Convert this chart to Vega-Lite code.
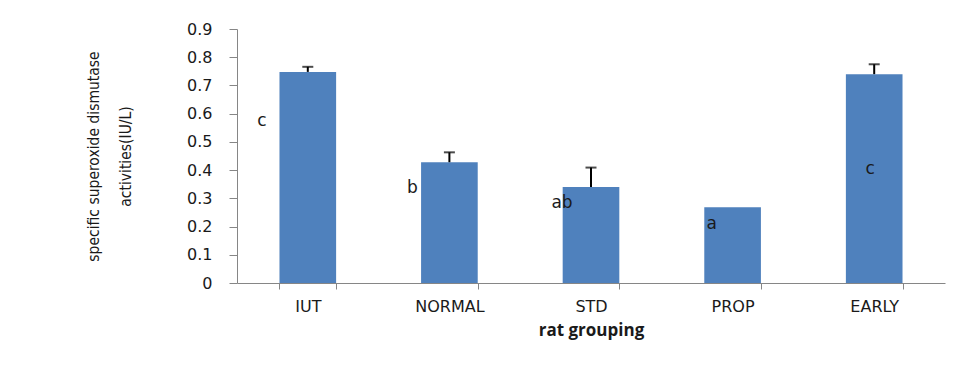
{
  "$schema": "https://vega.github.io/schema/vega-lite/v6.json",
  "width": 708,
  "height": 254,
  "autosize": {"type": "none"},
  "padding": {"left": 237, "top": 29, "right": 13, "bottom": 84},
  "background": "white",
  "config": {
    "view": {"stroke": null},
    "axis": {"labelOverlap": false}
  },
  "data": {
    "values": [
      {"group": "IUT", "value": 0.748, "upper": 0.766, "letter": "c", "ly": 0.575},
      {"group": "NORMAL", "value": 0.428, "upper": 0.463, "letter": "b", "ly": 0.337},
      {"group": "STD", "value": 0.340, "upper": 0.409, "letter": "ab", "ly": 0.283},
      {"group": "PROP", "value": 0.268, "upper": null, "letter": "a", "ly": 0.209},
      {"group": "EARLY", "value": 0.740, "upper": 0.775, "letter": "c", "ly": 0.404}
    ]
  },
  "encoding": {
    "x": {
      "field": "group",
      "type": "nominal",
      "sort": ["IUT", "NORMAL", "STD", "PROP", "EARLY"],
      "scale": {"paddingInner": 0.6, "paddingOuter": 0.3},
      "axis": {
        "labelAngle": 0,
        "labelOverlap": false,
        "tickBand": "extent",
        "domainColor": "#868686",
        "tickColor": "#868686",
        "tickSize": 6,
        "labelFont": "DejaVu Sans",
        "labelFontSize": 16,
        "labelColor": "#1a1a1a",
        "labelPadding": 9,
        "title": "rat grouping",
        "titleFont": "Open Sans",
        "titleFontSize": 17,
        "titleFontWeight": "bold",
        "titleColor": "#1a1a1a",
        "titlePadding": 8
      }
    }
  },
  "layer": [
    {
      "mark": {"type": "bar", "color": "#4F81BD"},
      "encoding": {
        "y": {
          "field": "value",
          "type": "quantitative",
          "scale": {"domain": [0, 0.9], "nice": false},
          "axis": {
            "values": [0, 0.1, 0.2, 0.3, 0.4, 0.5, 0.6, 0.7, 0.8, 0.9],
            "tickCount": 10,
            "format": ".1~f",
            "labelOverlap": false,
            "grid": false,
            "domainColor": "#868686",
            "tickColor": "#868686",
            "tickSize": 8,
            "labelFont": "DejaVu Sans",
            "labelFontSize": 16,
            "labelColor": "#1a1a1a",
            "labelPadding": 17,
            "title": ["specific superoxide dismutase", "activities(IU/L)"],
            "titleFont": "Liberation Sans Narrow, DejaVu Sans Condensed, Roboto, sans-serif",
            "titleFontSize": 15.5,
            "titleFontWeight": "normal",
            "titleColor": "#1a1a1a",
            "titleAngle": -90,
            "titleAlign": "center",
            "titleBaseline": "middle",
            "titleLineHeight": 32,
            "titleX": -144,
            "titleY": 127
          }
        }
      }
    },
    {
      "transform": [{"filter": "datum.upper != null"}],
      "mark": {"type": "rule", "color": "#000000", "strokeWidth": 2},
      "encoding": {
        "y": {"field": "value", "type": "quantitative"},
        "y2": {"field": "upper"}
      }
    },
    {
      "transform": [{"filter": "datum.upper != null"}],
      "mark": {"type": "tick", "color": "#000000", "size": 11, "thickness": 2},
      "encoding": {
        "y": {"field": "upper", "type": "quantitative"}
      }
    },
    {
      "transform": [{"filter": "datum.group == 'IUT'"}],
      "mark": {"type": "text", "dx": -46, "font": "DejaVu Sans", "fontSize": 17, "color": "#1a1a1a", "baseline": "middle"},
      "encoding": {"y": {"field": "ly", "type": "quantitative"}, "text": {"field": "letter"}}
    },
    {
      "transform": [{"filter": "datum.group == 'NORMAL'"}],
      "mark": {"type": "text", "dx": -37, "font": "DejaVu Sans", "fontSize": 17, "color": "#1a1a1a", "baseline": "middle"},
      "encoding": {"y": {"field": "ly", "type": "quantitative"}, "text": {"field": "letter"}}
    },
    {
      "transform": [{"filter": "datum.group == 'STD'"}],
      "mark": {"type": "text", "dx": -29, "font": "DejaVu Sans", "fontSize": 17, "color": "#1a1a1a", "baseline": "middle"},
      "encoding": {"y": {"field": "ly", "type": "quantitative"}, "text": {"field": "letter"}}
    },
    {
      "transform": [{"filter": "datum.group == 'PROP'"}],
      "mark": {"type": "text", "dx": -21, "font": "DejaVu Sans", "fontSize": 17, "color": "#1a1a1a", "baseline": "middle"},
      "encoding": {"y": {"field": "ly", "type": "quantitative"}, "text": {"field": "letter"}}
    },
    {
      "transform": [{"filter": "datum.group == 'EARLY'"}],
      "mark": {"type": "text", "dx": -4, "font": "DejaVu Sans", "fontSize": 17, "color": "#1a1a1a", "baseline": "middle"},
      "encoding": {"y": {"field": "ly", "type": "quantitative"}, "text": {"field": "letter"}}
    }
  ]
}
